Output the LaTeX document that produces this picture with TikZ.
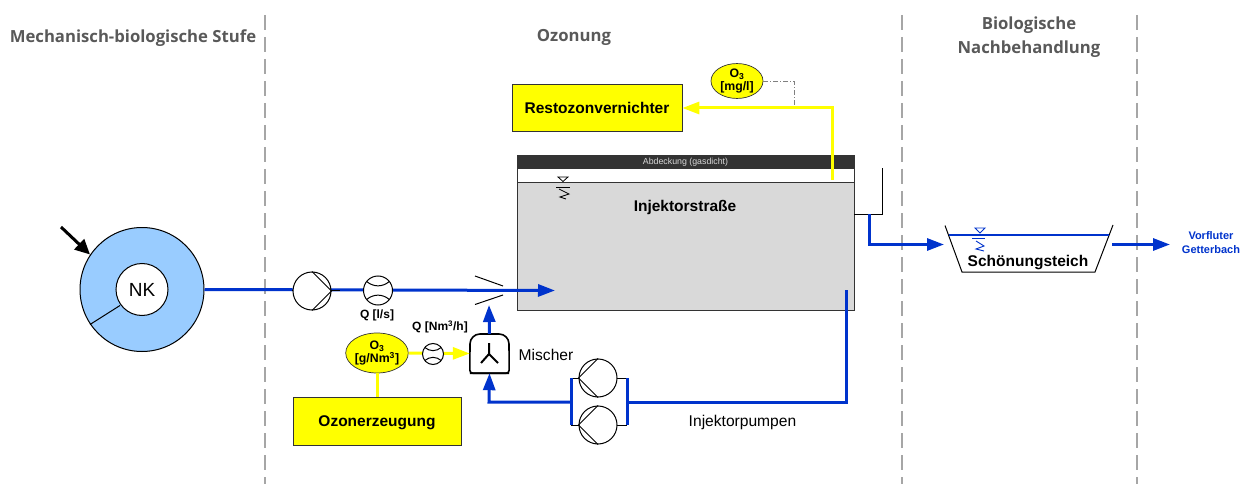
\documentclass[tikz,border=0pt]{standalone}
\usepackage{fontspec}
\setmainfont{Liberation Sans}
\newfontfamily\headfont{Open Sans}
\usetikzlibrary{arrows.meta,shapes.geometric}
\definecolor{flowblue}{HTML}{0033CC}
\definecolor{ozoneyellow}{HTML}{FFFF00}
\definecolor{ringblue}{HTML}{99CCFF}
\definecolor{tankgrey}{HTML}{D9D9D9}
\definecolor{lidgrey}{HTML}{333333}
\definecolor{headgrey}{HTML}{595959}
\definecolor{zonegrey}{HTML}{A6A6A6}
\tikzset{
  x=1pt,y=-1pt,
  zoneline/.style={draw=zonegrey,line width=2pt,dash pattern=on 15pt off 7pt},
  headtxt/.style={font=\headfont\bfseries\fontsize{16.7}{24}\selectfont,text=headgrey,align=center,inner sep=0pt},
  bluepipe/.style={draw=flowblue,line width=3pt},
  bluearrow/.style={bluepipe,-{Triangle[length=17pt,width=12pt]}},
  yellowpipe/.style={draw=ozoneyellow,line width=3pt},
  yellowarrow/.style={yellowpipe,-{Triangle[length=17pt,width=12pt]}},
  ybox/.style={draw=black!80,fill=ozoneyellow,line width=.7pt,inner sep=0pt,text depth=0pt,font=\bfseries\fontsize{15.5}{17}\selectfont},
  yell/.style={ellipse,draw=black!80,fill=ozoneyellow,line width=.7pt,inner sep=0pt,align=center,font=\bfseries\fontsize{12.3}{13.5}\selectfont},
  pumpc/.style={circle,draw=black,fill=white,line width=1pt,minimum size=38pt,inner sep=0pt},
  meterc/.style={circle,draw=black,fill=white,line width=1pt,inner sep=0pt},
  smalltxt/.style={font=\bfseries\fontsize{12}{13}\selectfont,inner sep=0pt},
  plaintxt/.style={font=\fontsize{15.6}{17}\selectfont,inner sep=0pt},
}
\newcommand{\metersym}[4]{%
  \node[meterc,minimum size=#4*2pt] (#1) at (#2,#3) {};
  \draw[line width=1pt] (#2-0.78*#4,#3-0.62*#4) .. controls (#2-0.3*#4,#3-0.22*#4) and (#2+0.3*#4,#3-0.22*#4) .. (#2+0.78*#4,#3-0.62*#4);
  \draw[line width=1pt] (#2-0.78*#4,#3+0.62*#4) .. controls (#2-0.3*#4,#3+0.22*#4) and (#2+0.3*#4,#3+0.22*#4) .. (#2+0.78*#4,#3+0.62*#4);
}
\begin{document}
\begin{tikzpicture}
\useasboundingbox (0,0) rectangle (1243,484);
% zones
\coordinate (z1t) at (265,15); \coordinate (z1b) at (265,484);
\coordinate (z2t) at (902,15); \coordinate (z2b) at (902,484);
\coordinate (z3t) at (1137,15); \coordinate (z3b) at (1137,484);
\draw[zoneline] (z1t) -- (z1b);
\draw[zoneline] (z2t) -- (z2b);
\draw[zoneline] (z3t) -- (z3b);
\node[headtxt] (h1) at (133,38) {Mechanisch-biologische Stufe};
\node[headtxt] (h2) at (574,37) {Ozonung};
\node[headtxt] (h3) at (1029,37) {Biologische\\Nachbehandlung};
% tank
\node[draw=black!80,fill=tankgrey,line width=1pt,minimum width=337pt,minimum height=127pt,inner sep=0pt] (tank) at (685.5,246.5) {};
\node[draw=black!80,fill=white,line width=1pt,minimum width=337pt,minimum height=14pt,inner sep=0pt] (gas) at (685.5,176) {};
\node[fill=lidgrey,minimum width=338pt,minimum height=14pt,inner sep=0pt,text=black!15,font=\fontsize{8.8}{10}\selectfont] (lid) at (685.5,162) {Abdeckung (gasdicht)};
\node[font=\bfseries\fontsize{15.5}{17}\selectfont,inner sep=0pt] (injl) at (685,207) {Injektorstraße};
\draw[line width=.8pt] (558,177) -- (568,177) -- (563,181.5) -- cycle;
\draw[line width=.8pt] (556,187) -- (570,187);
\draw[line width=.8pt] (559,189) -- (569,194) -- (560,197) -- (566,199);
% ring
\node[circle,draw=black,fill=ringblue,line width=1pt,minimum size=124pt,inner sep=0pt] (ring) at (142,289.5) {};
\coordinate (r1) at (90,324.5);
\coordinate (r2) at (120,305.5);
\draw[line width=1pt] (r1) -- (r2);
\node[circle,draw=black,fill=white,line width=1pt,minimum size=52pt,inner sep=0pt,font=\fontsize{19}{21}\selectfont] (nk) at (142,289.5) {NK};
\coordinate (ins) at (61,227);
\draw[line width=3pt,-{Triangle[length=15pt,width=14pt]}] (ins) -- (90,254.5);
% main line
\coordinate (tip1) at (555,290.5);
\draw[bluearrow] (ring.east) -- (tip1);
\draw[line width=1pt,black] (292,290.5) -- (340,290.5);
\node[pumpc] (p1) at (312,291) {};
\draw[line width=1pt] (p1.north) -- (p1.east) -- (p1.south);
\metersym{m1}{378}{290.5}{14.5}
\node[smalltxt] (ql) at (377,315) {Q [l/s]};
% inlet bars
\coordinate (b1a) at (475,276); \coordinate (b1b) at (503,286);
\coordinate (b2a) at (475,304.5); \coordinate (b2b) at (503,295);
\draw[line width=1pt] (b1a) -- (b1b);
\draw[line width=1pt] (b2a) -- (b2b);
% outlet
\coordinate (o1) at (854,214); \coordinate (o2) at (882,214); \coordinate (o3) at (882,168);
\draw[line width=1pt] (o1) -- (o2) -- (o3);
\coordinate (o4) at (869,214); \coordinate (o5) at (869,244.5); \coordinate (o6) at (944,244.5);
\draw[bluearrow] (o4) -- (o5) -- (o6);
% pond
\coordinate (s1) at (945,225.5); \coordinate (s2) at (962,272); \coordinate (s3) at (1095,272); \coordinate (s4) at (1113,225);
\draw[line width=1pt] (s1) -- (s2) -- (s3) -- (s4);
\coordinate (w1) at (949,235); \coordinate (w2) at (1109,235);
\draw[flowblue,line width=2pt] (w1) -- (w2);
\draw[flowblue,line width=.9pt] (975,228) -- (985,228) -- (980,233) -- cycle;
\draw[flowblue,line width=.9pt] (972,238) -- (985,238);
\draw[flowblue,line width=.9pt] (976,241) -- (984,246) -- (976,249) -- (984,251);
\node[font=\bfseries\fontsize{15.5}{17}\selectfont,inner sep=0pt] (teich) at (1028,263) {Schönungsteich};
\coordinate (a1) at (1112,244.5); \coordinate (a2) at (1170,244.5);
\draw[bluearrow] (a1) -- (a2);
\node[font=\bfseries\fontsize{11}{14}\selectfont,text=flowblue,align=center,inner sep=0pt] (vorf) at (1211,243) {Vorfluter\\Getterbach};
% residual ozone
\node[ybox,minimum width=170pt,minimum height=47pt] (rest) at (597,107.5) {Restozonvernichter};
\node[yell,minimum width=52pt,minimum height=34pt] (o3a) at (737,81) {O\textsubscript{3}\\{[}mg/l{]}};
\coordinate (y1) at (832,180); \coordinate (y2) at (832,108);
\coordinate (d1) at (794,81); \coordinate (d2) at (794,108);
\draw[draw=black!50,line width=.8pt,dash pattern=on 5pt off 2pt on 1pt off 2pt] (o3a.east) -- (d1) -- (d2);
\draw[yellowarrow] (y1) -- (y2) -- (rest.east |- y2);
% ozone generation
\node[ybox,minimum width=168pt,minimum height=48pt] (gen) at (377,421) {Ozonerzeugung};
\node[yell,minimum width=61pt,minimum height=40pt] (o3b) at (377,353) {O\textsubscript{3}\\{[}g/Nm\textsuperscript{3}{]}};
\draw[yellowpipe] (o3b) -- (gen);
% mixer
\node[minimum width=39pt,minimum height=39pt,inner sep=0pt] (mix) at (489.5,353.5) {};
\draw[line width=1.6pt,rounded corners=3pt] (mix.south west) -- (mix.south east) -- (509,344);
\draw[line width=1.6pt] (509,344) arc (0:90:10pt) -- (480,334) arc (90:180:10pt);
\draw[line width=1.6pt,rounded corners=3pt] (470,344) -- (mix.south west) -- (mix.south east);
\draw[line width=2pt] (489,343) -- (489,354) -- (481,363);
\draw[line width=2pt] (489,354) -- (498,363);
\draw[yellowarrow] (o3b.east) -- (mix.west);
\metersym{m2}{433}{354}{10.5}
\node[smalltxt] (qn) at (440,327) {Q [Nm\textsuperscript{3}/h]};
\coordinate (mt) at (489,305);
\draw[bluearrow] (mix.north) -- (mt);
\node[plaintxt] (mtx) at (546,355) {Mischer};
% injector pumps
\coordinate (i1) at (846,290); \coordinate (i2) at (846,402); \coordinate (i3) at (627,402);
\coordinate (i4) at (571,402); \coordinate (i5) at (489,402);
\draw[bluepipe] (i1) -- (i2) -- (i3);
\draw[bluearrow] (i4) -- (i5) -- (mix.south);
\coordinate (bl1) at (571,378); \coordinate (bl2) at (571,425);
\coordinate (br1) at (627,378); \coordinate (br2) at (627,425);
\draw[line width=1pt] (bl1) -- (br1);
\draw[line width=1pt] (bl2) -- (br2);
\draw[bluepipe] (bl1) -- (bl2);
\draw[bluepipe] (br1) -- (br2);
\node[pumpc] (p2) at (598,378) {};
\draw[line width=1pt] (p2.north) -- (p2.west) -- (p2.south);
\node[pumpc] (p3) at (598,425) {};
\draw[line width=1pt] (p3.north) -- (p3.west) -- (p3.south);
\node[plaintxt] (injp) at (742.5,422) {Injektorpumpen};
\end{tikzpicture}
\end{document}
